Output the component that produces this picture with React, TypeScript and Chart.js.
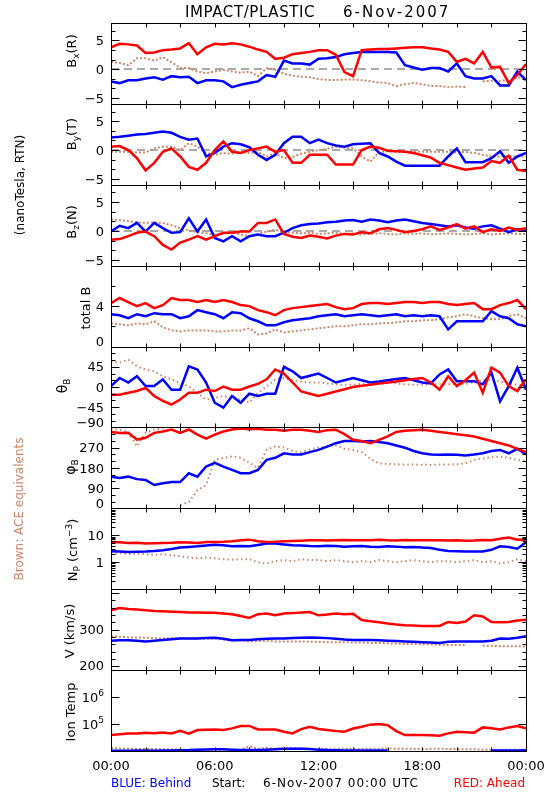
import React, { useEffect, useRef } from "react";
import { Chart, registerables } from "chart.js";

Chart.register(...registerables);

const FONT = '"DejaVu Sans", "Liberation Sans", sans-serif';
const RED = "#ff0000";
const BLUE = "#0000ff";
const BROWN = "#cd876a";
const GRAY = "#8f8f8f";

const HOURS = [0, 0.5, 1, 1.5, 2, 2.5, 3, 3.5, 4, 4.5, 5, 5.5, 6, 6.5, 7, 7.5, 8, 8.5, 9, 9.5, 10, 10.5, 11, 11.5, 12, 12.5, 13, 13.5, 14, 14.5, 15, 15.5, 16, 16.5, 17, 17.5, 18, 18.5, 19, 19.5, 20, 20.5, 21, 21.5, 22, 22.5, 23, 23.5, 24];
const X_TICK_HOURS = [0, 2, 4, 6, 8, 10, 12, 14, 16, 18, 20, 22, 24];
const X_LABEL_HOURS = [0, 6, 12, 18, 24];
const X_LABEL_TEXT = ["00:00", "06:00", "12:00", "18:00", "00:00"];

// Bx (R)
const BX_RED = [3.8, 4.4, 4.3, 4.1, 2.8, 2.9, 3.3, 3.4, 3.6, 4.5, 2.6, 3.8, 4.4, 4.3, 4.5, 4.3, 3.9, 3.4, 3.0, 1.8, 2.0, 2.6, 2.8, 3.0, 3.3, 3.3, 2.5, -0.5, -1.2, 3.3, 3.4, 3.5, 3.5, 3.6, 3.7, 3.8, 3.8, 3.6, 3.4, 3.0, 1.3, 1.8, 1.0, 3.0, 0.3, 0.4, -2.4, -1.0, 0.9];
const BX_BLUE = [-2.1, -2.4, -1.9, -1.9, -1.6, -1.4, -1.8, -1.2, -1.4, -1.3, -2.4, -1.9, -1.9, -2.1, -3.1, -2.7, -2.4, -2.1, -1.0, -1.3, 1.5, 1.0, 1.0, 0.8, 1.8, 1.9, 2.1, 2.6, 2.8, 3.0, 3.0, 3.0, 3.0, 2.9, 0.7, 0.3, -0.1, 0.2, 0.2, -0.4, 1.0, -1.2, -1.6, -1.6, -1.2, -2.8, -2.8, -0.4, -1.9];
const BX_ACE = [1.3, 1.1, 0.7, 1.9, 1.9, 1.5, 2.1, 1.2, 0.2, 0.2, -0.4, -0.7, -0.4, -0.1, -0.4, -0.6, -0.4, -1.2, 0.2, -0.1, -0.8, -1.1, -1.3, -1.4, -1.7, -1.85, -1.85, -1.8, -1.8, -1.9, -2.1, -2.3, -2.4, -2.9, -2.6, -2.4, -2.6, -2.9, -2.9, -3.1, -3.0, -3.1, null, -2.1, -2.0, -2.0, -1.9, -1.5, -1.2];

// By (T)
const BY_RED = [0.6, 0.7, 0, -1.4, -3.5, -2.2, -0.3, 0.3, -1.1, -2.9, -3.4, -2.2, 0, 1.5, -0.3, -0.5, 0, 0.3, 0.6, -0.3, 0, -2.2, -2.2, -0.8, -0.8, -0.8, -2.5, -2.5, -2.5, 0, 0.6, 0.4, -0.1, -0.2, -0.3, -0.5, -0.9, -1.3, -2.2, -2.6, -3.0, -3.4, -3.2, -3.0, -1.9, -2.2, -1.0, -3.4, -3.6];
const BY_BLUE = [2.2, 2.3, 2.5, 2.7, 2.8, 3.0, 3.2, 3.0, 2.3, 1.8, 2.0, -1.1, -0.5, 0.6, 1.2, 1.0, 0.5, -0.8, -1.7, -0.8, 1.2, 2.3, 2.3, 1.2, 1.8, 1.2, 0.8, 0.6, 1.0, 1.1, 1.2, -0.5, -1.1, -2.0, -2.7, -2.7, -2.7, -2.7, -2.7, -1.1, 0.3, -2.1, -2.1, -2.1, -1.4, -0.2, -2.2, -1.1, -0.5];
const BY_ACE = [-0.3, -0.3, -0.3, -0.4, -0.4, 0.3, 0.6, 0.6, 0, 1.2, 0.6, -0.5, -0.8, -0.5, -0.6, -0.4, -0.5, -0.3, -1.1, -0.6, -1.4, -1.2, -0.6, -0.3, 0, 0.2, 0.6, 0.4, 0.3, -1.1, -2.0, -0.3, -0.2, -0.3, -0.3, -0.2, -0.3, -0.3, -0.3, -0.3, -0.4, -0.3, -0.5, -0.8, -1.1, -1.1, -1.0, -1.1, -1.1];

// Bz (N)
const BZ_RED = [-1.5, -1.4, -0.9, -0.3, -0.1, -0.9, -2.4, -3.2, -2.0, -1.5, -0.9, -1.5, -0.9, -0.3, -0.3, -0.1, -0.1, 1.4, 1.4, 2.0, -0.5, -1.0, -1.2, -0.8, -1.0, -1.3, -0.8, -0.5, -0.6, -0.2, -0.4, 0.3, 0.5, 0.2, -0.2, 0.0, 0.3, 0.8, 0.2, 0.6, 1.2, 0.4, 0.8, -0.2, 0.3, 0.0, 0.6, 0.2, 0.5];
const BZ_BLUE = [-0.1, 0.9, 0.5, 1.4, -0.1, 1.4, 0.5, -0.3, -0.2, 2.2, -0.1, 2.0, -1.2, -1.8, -0.9, -1.8, -0.9, -0.6, -0.9, -0.9, -0.3, 0.5, 1.0, 1.2, 1.3, 1.5, 1.6, 1.8, 1.9, 1.6, 2.0, 1.8, 1.5, 1.8, 2.0, 1.7, 1.4, 1.2, 1.0, 0.8, 1.0, 0.6, 0.4, 0.8, 1.0, 0.4, -0.2, 0.3, 0.0];
const BZ_ACE = [2.0, 1.9, 1.7, 1.5, 1.4, 1.5, 1.4, 1.0, 0.5, 0.1, -0.2, -0.4, -0.6, -0.5, -0.3, -0.6, -0.9, -0.5, -0.1, 0.2, -0.2, -0.3, -0.4, -0.3, -0.5, -0.4, -0.3, -0.5, -0.4, -0.6, -0.5, -0.4, -0.5, -0.6, -0.4, -0.5, -0.4, -0.6, -0.5, -0.4, -0.5, -0.6, -0.5, -0.4, -0.6, -0.5, -0.4, -0.5, -0.5];

// total B
const BT_RED = [4.3, 4.8, 4.4, 4.0, 4.3, 3.8, 4.1, 4.8, 4.6, 4.6, 4.4, 4.6, 4.4, 4.6, 4.4, 4.1, 4.0, 3.6, 3.4, 3.1, 3.6, 3.8, 3.9, 4.0, 4.1, 4.2, 3.9, 3.7, 3.8, 4.2, 4.3, 4.3, 4.2, 4.3, 4.4, 4.4, 4.3, 4.4, 4.4, 4.2, 4.1, 4.2, 4.3, 3.7, 3.7, 4.1, 4.3, 4.6, 3.7];
const BT_BLUE = [3.2, 3.1, 2.8, 3.2, 3.0, 3.3, 3.2, 3.2, 2.8, 3.0, 3.6, 3.4, 3.2, 2.8, 3.4, 3.3, 2.8, 2.5, 2.1, 2.1, 2.4, 2.6, 2.7, 2.8, 3.0, 3.1, 3.2, 3.0, 3.1, 3.2, 3.1, 3.0, 3.1, 3.2, 3.0, 3.1, 3.0, 3.1, 3.0, 1.7, 2.5, 2.5, 2.5, 2.5, 3.5, 3.0, 2.8, 2.2, 2.0];
const BT_ACE = [2.3, 2.2, 2.1, 2.3, 2.2, 2.5, 1.9, 1.6, 1.5, 1.6, 1.6, 1.6, 1.5, 1.5, 1.6, 1.6, 1.8, 1.2, 1.3, 1.7, 1.4, 1.5, 1.6, 1.7, 1.8, 1.9, 2.0, 2.0, 2.1, 2.2, 2.2, 2.3, 2.3, 2.4, 2.5, 2.5, 2.6, 2.6, 2.7, 2.9, 3.0, 3.2, 3.0, 2.8, 2.7, 2.7, 3.0, 3.2, 2.8];

// theta_B
const TH_RED = [-17, -17, -13, -9, -2, -20, -31, -39, -28, -13, -13, -6, -9, 1, -6, -6, 1, 7, 17, 39, 30, 10, -10, -15, -20, -15, -10, -5, 0, 3, 5, 8, 10, 12, 15, 18, 20, 10, -6, 24, 2, 15, 32, -13, 43, 32, 2, -9, 17];
const TH_BLUE = [2, 20, 10, 24, 2, 2, 17, -6, -6, 46, 39, 10, -35, -46, -20, -35, -15, -20, -15, -15, 45, 35, 20, 25, 30, 20, 10, 15, 20, 15, 10, 12, 15, 18, 20, 15, 10, 8, 28, 39, 13, 13, 13, 6, 32, -32, 2, 43, -6];
const TH_ACE = [57, 54, 61, 46, 39, 35, 24, 17, 9, 1, -13, -28, -24, -20, -24, -28, -35, -13, 1, 17, 20, 15, 12, 10, 10, 8, 6, 5, 5, 7, 8, 10, 10, 8, 6, 5, 5, 6, 6, 6, 6, 6, 12, 14, 16, 12, 8, 5, 3];

// phi_B
const PH_RED = [340, 335, 336, 306, 314, 336, 342, 351, 336, 351, 328, 310, 328, 342, 351, 355, 352, 354, 350, 350, 345, 350, 350, 345, 340, 348, 350, 330, 305, 300, 290, 305, 320, 340, 345, 348, 350, 345, 340, 335, 330, 325, 320, 310, 300, 290, 280, 265, 250];
const PH_BLUE = [141, 135, 141, 130, 126, 104, 112, 117, 117, 156, 141, 186, 202, 186, 171, 156, 156, 171, 216, 225, 245, 240, 240, 250, 260, 275, 290, 300, 300, 298, 300, 295, 290, 280, 270, 255, 245, 240, 238, 240, 238, 235, 240, 245, 255, 260, 245, 265, 240];
const PH_ACE = [351, 350, 340, 276, 336, 351, 355, null, 15, 28, 81, 103, 216, 225, 231, 225, 203, 180, 261, 276, 270, 255, 250, 262, 270, 275, 280, 265, 260, 250, 220, 200, 198, 196, 195, 195, 194, 193, 195, 195, 196, 200, 215, 222, 228, 230, 225, 215, 210];

// N_p
const NP_RED = [5.7, 5.5, 5.2, 5.3, 5.0, 5.1, 5.2, 5.3, 5.5, 5.4, 5.2, 5.6, 5.7, 5.8, 6.0, 6.5, 6.9, 6.0, 5.7, 5.8, 6.0, 6.2, 6.3, 6.5, 6.6, 6.4, 6.5, 6.7, 6.6, 6.5, 6.6, 6.8, 6.5, 6.4, 6.7, 6.6, 6.5, 6.6, 6.5, 6.4, 6.5, 6.3, 6.4, 6.7, 6.6, 7.5, 8.2, 6.8, 7.0];
const NP_BLUE = [2.55, 2.5, 2.4, 2.45, 2.5, 2.6, 2.8, 3.1, 3.5, 3.7, 3.9, 4.2, 4.5, 4.3, 3.9, 4.0, 3.9, 4.4, 5.0, 5.0, 4.6, 4.3, 4.2, 4.0, 3.9, 4.1, 4.0, 3.8, 3.9, 4.0, 3.8, 3.7, 3.9, 3.8, 3.6, 3.7, 3.5, 3.4, 2.9, 2.6, 2.55, 2.5, 2.5, 2.5, 2.9, 3.9, 3.7, 3.2, 5.5];
const NP_ACE = [2.3, 2.2, 2.0, 2.1, 2.0, 1.9, 2.0, 1.8, 1.7, 1.5, 1.4, 1.5, 1.4, 1.3, 1.25, 1.3, 1.3, 1.0, 0.9, 1.1, 1.2, 1.1, 1.3, 1.2, 1.2, 1.1, 1.2, 1.1, 1.0, 1.1, 1.0, 1.2, 1.1, 1.0, 1.1, 1.2, 1.1, 1.0, 1.1, 1.1, 1.0, 1.1, 1.2, 1.0, 1.1, 0.9, 1.0, 1.3, 1.1];

// V (km/s)
const V_RED = [353, 359, 356, 355, 353, 351, 350, 349, 348, 347, 347, 346, 346, 344, 342, 337, 332, 342, 344, 339, 344, 345, 347, 348, 339, 341, 344, 342, 343, 326, 323, 320, 317, 314, 312, 311, 310, 310, 310, 321, 318, 322, 339, 336, 321, 320, 321, 325, 327];
const V_BLUE = [270, 271, 271, 270, 268, 270, 272, 274, 276, 276, 276, 277, 278, 275, 271, 272, 272, 274, 275, 276, 276, 277, 278, 279, 278, 277, 275, 273, 272, 272, 272, 271, 270, 269, 268, 267, 266, 265, 264, 267, 268, 268, 268, 268, 270, 276, 275, 278, 282];
const V_ACE = [282, 281, 279, 279, 278, 277, 276, 277, 277, 276, 276, 276, 276, 273, 271, 270, 268, 269, 270, 268, 268, 268, 268, 267, 267, 266, 266, 266, 265, 265, 264, 264, 263, 262, 261, 261, 260, 260, 259, 258, 258, 258, null, 256, 256, 255, 255, 255, 254];

// Ion temperature (K)
const T_RED = [3.9e4, 4.2e4, 4.5e4, 4.5e4, 4.8e4, 4.6e4, 4.9e4, 4.5e4, 5.6e4, 4.4e4, 6.0e4, 6.2e4, 6.3e4, 6.0e4, 6.9e4, 8.4e4, 8.5e4, 6.3e4, 6.3e4, 6.3e4, 5.2e4, 4.5e4, 6.5e4, 7.9e4, 6.5e4, 6.0e4, 5.5e4, 5.2e4, 6.8e4, 7.9e4, 9.5e4, 1.0e5, 9.0e4, 5.5e4, 3.9e4, 3.9e4, 3.9e4, 3.8e4, 3.7e4, 4.5e4, 5.2e4, 5.0e4, 4.8e4, 7.5e4, 7.0e4, 6.3e4, 7.5e4, 8.4e4, 6.9e4];
const T_BLUE = [1.02e4, 1.03e4, 1.02e4, 1.04e4, 1.05e4, 1.03e4, 1.04e4, 1.05e4, 1.06e4, 1.08e4, 1.12e4, 1.14e4, 1.16e4, 1.15e4, 1.12e4, 1.1e4, 1.08e4, 1.1e4, 1.12e4, 1.15e4, 1.2e4, 1.22e4, 1.2e4, 1.18e4, 1.12e4, 1.08e4, 1.06e4, 1.05e4, 1.04e4, 1.05e4, 1.04e4, 1.05e4, 1.04e4, null, null, null, null, null, null, null, null, null, null, null, 1.04e4, 1.04e4, 1.05e4, 1.05e4, 1.06e4];
const T_ACE = [1.3e4, 1.25e4, 1.2e4, 1.2e4, 1.18e4, 1.2e4, 1.15e4, 1.15e4, 1.12e4, 1.1e4, 1.12e4, 1.1e4, 1.1e4, 1.1e4, 1.12e4, 1.1e4, 1.5e4, 1.2e4, 1.3e4, 1.2e4, 1.22e4, 1.3e4, 1.25e4, 1.2e4, 1.15e4, 1.18e4, 1.2e4, 1.2e4, 1.18e4, 1.2e4, 1.22e4, 1.2e4, 1.25e4, 1.2e4, 1.22e4, 1.2e4, 1.18e4, 1.2e4, 1.22e4, 1.18e4, 1.2e4, 1.15e4, 1.15e4, 1.12e4, 1.1e4, 1.1e4, 1.12e4, 1.1e4, 1.12e4];

type Part = { t: string; s: number; dy?: number };

interface Panel {
  id: string;
  min: number;
  max: number;
  log: boolean;
  major: number[];
  minor: number[];
  tickVals: number[];
  tickText: Part[][];
  title: Part[];
  tx: number;
  ty: number;
  zero: boolean;
  red: (number | null)[];
  blue: (number | null)[];
  ace: (number | null)[];
  aceDash: number[];
}

const T = 13;
const S = 9;
const BTICKS = [-5, 0, 5];
const BMINOR = [-3.333, -1.667, 1.667, 3.333, 6.667];
const btxt = (): Part[][] => [[{ t: "5", s: T }], [{ t: "0", s: T }], [{ t: "\u22125", s: T }]];

const NP_MINOR: number[] = [];
[0.1, 1, 10].forEach((d) => {
  for (let k = 2; k <= 9; k++) NP_MINOR.push(d * k);
});

const PANELS: Panel[] = [
  { id: "p0", min: -6, max: 8, log: false, major: BTICKS, minor: BMINOR, tickVals: [5, 0, -5], tickText: btxt(),
    title: [{ t: "B", s: T }, { t: "x", s: S, dy: 3 }, { t: "(R)", s: T }], tx: 71, ty: 51, zero: true,
    red: BX_RED, blue: BX_BLUE, ace: BX_ACE, aceDash: [2, 2] },
  { id: "p1", min: -6, max: 8, log: false, major: BTICKS, minor: BMINOR, tickVals: [5, 0, -5], tickText: btxt(),
    title: [{ t: "B", s: T }, { t: "y", s: S, dy: 3 }, { t: "(T)", s: T }], tx: 71, ty: 134, zero: true,
    red: BY_RED, blue: BY_BLUE, ace: BY_ACE, aceDash: [2, 2] },
  { id: "p2", min: -6, max: 8, log: false, major: BTICKS, minor: BMINOR, tickVals: [5, 0, -5], tickText: btxt(),
    title: [{ t: "B", s: T }, { t: "z", s: S, dy: 3 }, { t: "(N)", s: T }], tx: 71, ty: 222, zero: true,
    red: BZ_RED, blue: BZ_BLUE, ace: BZ_ACE, aceDash: [2, 2] },
  { id: "p3", min: 0, max: 8, log: false, major: [0, 4, 8], minor: [2, 6], tickVals: [4, 0],
    tickText: [[{ t: "4", s: T }], [{ t: "0", s: T }]],
    title: [{ t: "total B", s: T }], tx: 85, ty: 308, zero: false,
    red: BT_RED, blue: BT_BLUE, ace: BT_ACE, aceDash: [2, 2] },
  { id: "p4", min: -90, max: 90, log: false, major: [-90, -45, 0, 45, 90], minor: [-75, -60, -30, -15, 15, 30, 60, 75],
    tickVals: [45, 0, -45, -90],
    tickText: [[{ t: "45", s: T }], [{ t: "0", s: T }], [{ t: "\u221245", s: T }], [{ t: "\u221290", s: T }]],
    title: [{ t: "\u03b8", s: 14 }, { t: "B", s: S, dy: 3 }], tx: 62, ty: 386, zero: false,
    red: TH_RED, blue: TH_BLUE, ace: TH_ACE, aceDash: [1.5, 3] },
  { id: "p5", min: 0, max: 360, log: false, major: [0, 90, 180, 270, 360], minor: [30, 60, 120, 150, 210, 240, 300, 330],
    tickVals: [270, 180, 90, 0],
    tickText: [[{ t: "270", s: T }], [{ t: "180", s: T }], [{ t: "90", s: T }], [{ t: "0", s: T }]],
    title: [{ t: "\u03c6", s: 14 }, { t: "B", s: S, dy: 3 }], tx: 70, ty: 467, zero: false,
    red: PH_RED, blue: PH_BLUE, ace: PH_ACE, aceDash: [1.5, 3] },
  { id: "p6", min: 0.1, max: 100, log: true, major: [0.1, 1, 10, 100], minor: NP_MINOR, tickVals: [10, 1],
    tickText: [[{ t: "10", s: T }], [{ t: "1", s: T }]],
    title: [{ t: "N", s: T }, { t: "P", s: S, dy: 3 }, { t: " (cm", s: T }, { t: "\u22123", s: S, dy: -5 }, { t: ")", s: T }],
    tx: 72, ty: 550, zero: false,
    red: NP_RED, blue: NP_BLUE, ace: NP_ACE, aceDash: [1.5, 3] },
  { id: "p7", min: 190, max: 410, log: false, major: [200, 300, 400],
    minor: [220, 240, 260, 280, 320, 340, 360, 380], tickVals: [300, 200],
    tickText: [[{ t: "300", s: T }], [{ t: "200", s: T }]],
    title: [{ t: "V (km/s)", s: T }], tx: 69, ty: 631, zero: false,
    red: V_RED, blue: V_BLUE, ace: V_ACE, aceDash: [2, 2] },
  { id: "p8", min: 1e4, max: 1e7, log: true, major: [1e5, 1e6], minor: [], tickVals: [1e6, 1e5],
    tickText: [[{ t: "10", s: T }, { t: "6", s: S, dy: -6 }], [{ t: "10", s: T }, { t: "5", s: S, dy: -6 }]],
    title: [{ t: "Ion Temp", s: T }], tx: 70, ty: 712, zero: false,
    red: T_RED, blue: T_BLUE, ace: T_ACE, aceDash: [2, 2] },
];

const crisp = (v: number) => Math.round(v) + 0.5;

function partsWidth(ctx: CanvasRenderingContext2D, parts: Part[]) {
  let w = 0;
  for (const p of parts) {
    ctx.font = `${p.s}px ${FONT}`;
    w += ctx.measureText(p.t).width;
  }
  return w;
}

function drawParts(ctx: CanvasRenderingContext2D, parts: Part[], x: number, y: number, align: "left" | "center" | "right", color: string) {
  ctx.fillStyle = color;
  ctx.textAlign = "left";
  ctx.textBaseline = "alphabetic";
  const w = partsWidth(ctx, parts);
  let cx = align === "left" ? x : align === "center" ? x - w / 2 : x - w;
  for (const p of parts) {
    ctx.font = `${p.s}px ${FONT}`;
    ctx.fillText(p.t, cx, y + (p.dy ?? 0));
    cx += ctx.measureText(p.t).width;
  }
}

function drawRotated(ctx: CanvasRenderingContext2D, parts: Part[], cx: number, cy: number, color: string) {
  ctx.save();
  ctx.translate(cx, cy);
  ctx.rotate(-Math.PI / 2);
  drawParts(ctx, parts, 0, parts[0].s * 0.365, "center", color);
  ctx.restore();
}

function hline(ctx: CanvasRenderingContext2D, x1: number, x2: number, y: number) {
  ctx.beginPath();
  ctx.moveTo(x1, y);
  ctx.lineTo(x2, y);
  ctx.stroke();
}
function vline(ctx: CanvasRenderingContext2D, x: number, y1: number, y2: number) {
  ctx.beginPath();
  ctx.moveTo(x, y1);
  ctx.lineTo(x, y2);
  ctx.stroke();
}

const idlPlugin = {
  id: "idlFrame",
  beforeDatasetsDraw(chart: any) {
    const { ctx, chartArea } = chart;
    ctx.save();
    ctx.strokeStyle = GRAY;
    ctx.lineWidth = 1.5;
    ctx.setLineDash([8, 5]);
    for (const p of PANELS) {
      if (!p.zero) continue;
      const s = chart.scales[p.id];
      hline(ctx, chartArea.left, chartArea.right, Math.round(s.getPixelForValue(0)));
    }
    ctx.restore();
  },
  afterDatasetsDraw(chart: any) {
    const { ctx, chartArea } = chart;
    const xs = chart.scales.x;
    const left = crisp(chartArea.left);
    const right = crisp(chartArea.right);
    ctx.save();
    ctx.strokeStyle = "#000";
    ctx.lineWidth = 1;
    ctx.setLineDash([]);
    for (const p of PANELS) {
      const s = chart.scales[p.id];
      const top = crisp(s.top);
      const bottom = crisp(s.bottom);
      ctx.strokeRect(left, top, right - left, bottom - top);
      for (const h of X_TICK_HOURS) {
        const x = crisp(xs.getPixelForValue(h));
        vline(ctx, x, top, top + 4);
        vline(ctx, x, bottom, bottom - 4);
      }
      const drawY = (vals: number[], len: number) => {
        for (const v of vals) {
          const y = crisp(s.getPixelForValue(v));
          if (y < top - 0.1 || y > bottom + 0.1) continue;
          hline(ctx, left, left + len, y);
          hline(ctx, right, right - len, y);
        }
      };
      drawY(p.major, 8);
      drawY(p.minor, 4);
      p.tickVals.forEach((v, i) => {
        let yc = s.getPixelForValue(v);
        const lim = s.bottom - 5;
        if (yc > lim) yc = lim;
        drawParts(ctx, p.tickText[i], 104, yc + 4.7, "right", "#000");
      });
      drawRotated(ctx, p.title, p.tx, p.ty, "#000");
    }
    X_LABEL_HOURS.forEach((h, i) => {
      const x = xs.getPixelForValue(h);
      drawParts(ctx, [{ t: X_LABEL_TEXT[i], s: 13 }], x, 770, "center", "#000");
    });
    ctx.save();
    (ctx as any).letterSpacing = "0.6px";
    drawParts(ctx, [{ t: "IMPACT/PLASTIC", s: 15 }], 185, 17, "left", "#000");
    (ctx as any).letterSpacing = "2px";
    drawParts(ctx, [{ t: "6-Nov-2007", s: 15 }], 343, 17, "left", "#000");
    ctx.restore();
    drawParts(ctx, [{ t: "BLUE: Behind", s: 12 }], 111, 787, "left", BLUE);
    drawParts(ctx, [{ t: "Start:", s: 12 }], 212, 787, "left", "#000");
    ctx.save();
    (ctx as any).letterSpacing = "1px";
    drawParts(ctx, [{ t: "6-Nov-2007 00:00 UTC", s: 12 }], 263, 787, "left", "#000");
    ctx.restore();
    drawParts(ctx, [{ t: "RED: Ahead", s: 12 }], 525, 787, "right", RED);
    drawRotated(ctx, [{ t: "(nanoTesla, RTN)", s: 12 }], 20, 185, "#000");
    drawRotated(ctx, [{ t: "Brown: ACE equivalents", s: 12 }], 19, 509, BROWN);
    ctx.restore();
  },
};

const mk = (arr: (number | null)[]) => HOURS.map((h, i) => ({ x: h, y: arr[i] }));

export default function App() {
  const ref = useRef<HTMLCanvasElement | null>(null);
  useEffect(() => {
    if (!ref.current) return;
    const datasets: any[] = [];
    const scales: any = {
      x: { type: "linear", min: 0, max: 24, display: false },
    };
    PANELS.forEach((p, i) => {
      scales[p.id] = {
        type: p.log ? "logarithmic" : "linear",
        min: p.min,
        max: p.max,
        display: false,
        position: "right",
        stack: "panels",
        stackWeight: 1,
        weight: i,
      };
      datasets.push({
        label: p.id + " ACE", data: mk(p.ace), yAxisID: p.id, borderColor: BROWN, borderWidth: 2,
        borderDash: p.aceDash, order: 2, pointRadius: 0, fill: false, spanGaps: false,
      });
      datasets.push({
        label: p.id + " Behind", data: mk(p.blue), yAxisID: p.id, borderColor: BLUE, borderWidth: 2.5,
        order: 1, pointRadius: 0, fill: false, spanGaps: false,
      });
      datasets.push({
        label: p.id + " Ahead", data: mk(p.red), yAxisID: p.id, borderColor: RED, borderWidth: 2.5,
        order: 0, pointRadius: 0, fill: false, spanGaps: false,
      });
    });
    const chart = new Chart(ref.current, {
      type: "line",
      data: { datasets },
      options: {
        responsive: false,
        animation: false,
        devicePixelRatio: 1,
        events: [],
        layout: { padding: { left: 111, right: 24, top: 23, bottom: 49 } },
        plugins: { legend: { display: false }, title: { display: false }, tooltip: { enabled: false } },
        elements: { point: { radius: 0 }, line: { tension: 0 } },
        scales,
      },
      plugins: [idlPlugin],
    } as any);
    return () => chart.destroy();
  }, []);
  return (
    <div style={{ position: "absolute", left: 0, top: 0, width: 550, height: 800, background: "#fff" }}>
      <canvas ref={ref} width={550} height={800} style={{ display: "block" }} />
    </div>
  );
}
